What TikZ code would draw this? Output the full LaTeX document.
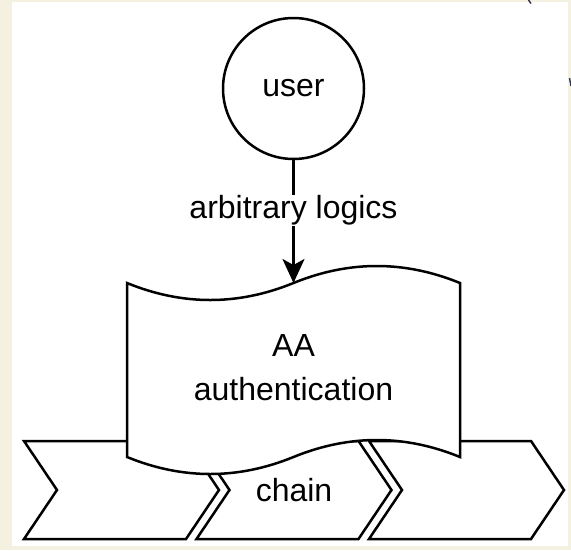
\documentclass[tikz,border=0pt]{standalone}
\usepackage{fontspec}
\setmainfont{Liberation Sans}
\usetikzlibrary{arrows.meta}
\definecolor{cream}{RGB}{244,241,224}
\definecolor{navymark}{RGB}{50,52,80}
\begin{document}
\begin{tikzpicture}[x=1pt,y=-1pt,
  outline/.style={draw=black, line width=2.5pt, fill=white, line join=miter},
  lbl/.style={font=\fontsize{32}{44}\selectfont, align=center, text=black, inner sep=1pt},
  arrowline/.style={draw=black, line width=2.5pt, -{Stealth[length=24pt,width=22pt,inset=6pt]}}
]
\useasboundingbox (0,0) rectangle (571,550);
\fill[cream] (0,0) rectangle (571,550);
\fill[white] (12,2) rectangle (568,546);
% stray marks
\draw[navymark, line width=1.4pt] (528.5,0) .. controls (530.5,1.5) .. (531,3.5);
\draw[navymark, line width=1.4pt] (569.5,78) -- (571,86);

% chevrons (steps)
\draw[outline] (24,441) -- (186,441) -- (219,490) -- (186,539) -- (24,539) -- (57,490) -- cycle;
\draw[outline] (196.5,441) -- (358.5,441) -- (391.5,490) -- (358.5,539) -- (196.5,539) -- (229.5,490) -- cycle;
\draw[outline] (369,441) -- (531,441) -- (564,490) -- (531,539) -- (369,539) -- (402,490) -- cycle;
\node[lbl] (chain) at (294,490) {chain};

% tape shape
\draw[outline] (127,283)
  .. controls (182.5,305.67) and (238,305.67) .. (293.5,283)
  .. controls (349,260.33) and (404.5,260.33) .. (460,283)
  -- (460,457)
  .. controls (404.5,434.33) and (349,434.33) .. (293.5,457)
  .. controls (238,479.67) and (182.5,479.67) .. (127,457)
  -- cycle;
\node[lbl] (auth) at (293.5,368) {AA\\authentication};
\coordinate (tapetop) at (293.5,283);

% user circle
\node[circle, draw=black, line width=2.5pt, fill=white, minimum size=141pt, inner sep=0pt, lbl] (user) at (293.5,88.5) {user};

% connector
\draw[arrowline] (user) -- (tapetop) node[pos=0.41, fill=white, lbl] (logic) {arbitrary logics};
\end{tikzpicture}
\end{document}
